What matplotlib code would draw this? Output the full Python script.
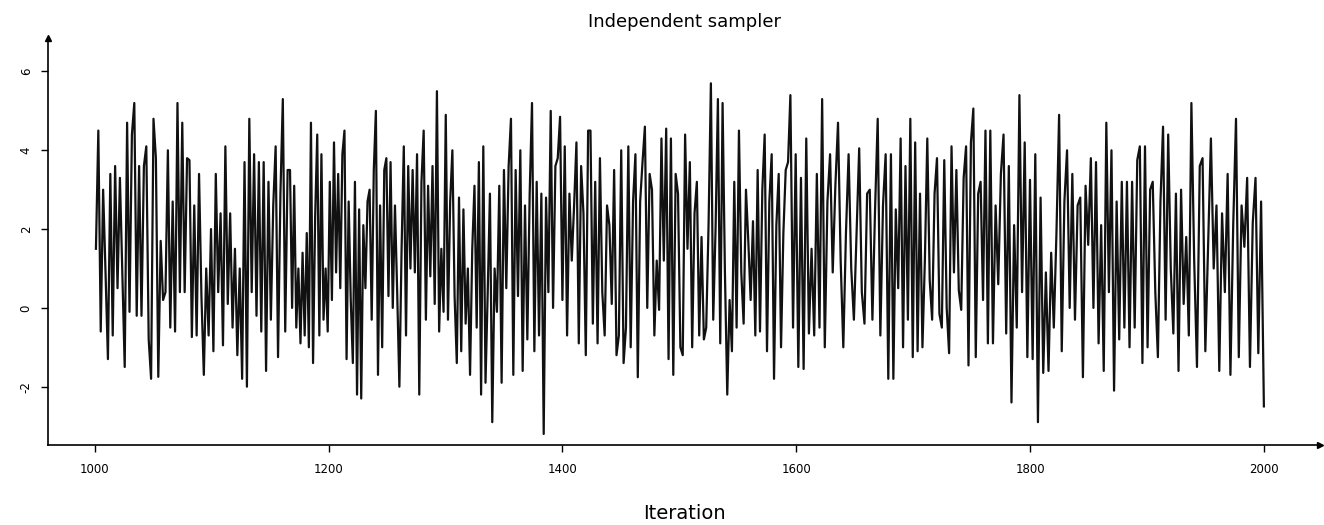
import numpy as np
import matplotlib
matplotlib.use("Agg")
import matplotlib.pyplot as plt

# Trace values, segment by segment (peaks / troughs in order)
seg_1000_1081 = [1.5, 4.5, -0.6, 3.0, 0.9, -1.3, 3.4, -0.7, 3.6, 0.5, 3.3, 0.9, -1.5, 4.7, -0.1,
                 4.4, 5.2, -0.2, 3.6, -0.2, 3.6, 4.1, -0.8, -1.8, 4.8, 3.8, -1.75, 1.7, 0.2, 0.4,
                 4.0, -0.5, 2.7, -0.6, 5.2, 0.4, 4.7, 0.4, 3.8]
seg_1081_1167 = [3.75, -0.74, 2.6, -0.7, 3.4, 0.3, -1.7, 1.0, -0.7, 2.0, -1.1, 3.4, 0.4, 2.4,
                 -0.95, 4.1, 0.1, 2.4, -0.5, 1.5, -1.2, 1.0, -1.8, 3.7, -2.0, 4.8, 0.4, 3.9,
                 -0.2, 3.7, -0.6, 3.7, -1.6, 3.2, -0.3, 2.6, 4.1, -1.25, 2.9, 5.3, -0.6, 3.5]
seg_1167_1253 = [3.5, 0.0, 3.1, -0.5, 1.0, -0.9, 1.4, -0.7, 1.9, -1.0, 4.7, -1.4, 2.3, 4.4, -0.7,
                 3.9, -0.3, 1.0, -0.6, 3.2, 0.2, 4.2, 0.9, 3.4, 0.5, 3.9, 4.5, -1.3, 2.7, 0.2,
                 -1.4, 3.2, -2.2, 2.5, -2.3, 2.1, 0.5, 2.7, 3.0, -0.3, 3.5, 5.0, -1.7, 2.6, -1.0,
                 3.5, 3.8, 0.3]
seg_1253_1338 = [3.7, -0.0, 2.6, 0.4, -2.0, 1.5, 4.1, -0.7, 3.6, 1.0, 3.5, 0.9, 3.9, -2.2, 3.2,
                 4.5, -0.3, 3.1, 0.8, 3.6, 0.1, 5.5, -0.6, 1.5, -0.1, 4.9, -0.3, 2.7, 4.0, 0.3,
                 -1.4, 2.8, -1.1, 2.5, -0.4, 1.0, -1.7, 1.5, 3.1, -0.5, 3.7, -2.2, 4.1, -1.9, 0.4]
seg_1338_1424 = [2.9, -2.9, 1.0, -0.1, 3.1, -1.9, 3.5, 0.5, 3.6, 4.8, -1.7, 3.5, 0.3, 4.0, -1.6,
                 2.6, -0.8, 2.9, 5.2, -1.1, 3.2, -0.7, 2.9, -3.2, 2.8, 0.4, 5.0, 0.0, 3.6, 3.8,
                 4.85, 0.2, 4.1, -0.7, 2.9, 1.2, 2.6, 4.2, -0.9, 3.6, 2.4, -1.2, 4.5]
seg_1424_1509 = [4.5, -0.4, 3.2, -0.9, 3.8, 0.4, -0.7, 2.6, 2.1, 0.1, 3.5, -1.2, -0.7, 4.0, -1.4,
                 -0.5, 4.1, -1.0, 2.7, 3.9, -1.76, 2.7, 3.7, 4.6, 0.0, 3.4, 3.0, -0.7, 1.2, -0.05,
                 4.3, 1.2, 4.55, -1.3, 4.3, -1.7, 3.4, 2.9, -1.0, -1.2, 4.4, 1.5]
seg_1509_1595 = [3.7, -1.0, 2.4, 3.2, -0.7, 1.8, -0.8, -0.5, 2.1, 5.7, -0.3, 2.0, 5.3, -0.9, 5.2,
                 0.9, -2.2, 0.2, -1.1, 3.2, -0.5, 4.5, 0.9, -0.4, 3.0, 1.7, 0.2, 2.2, -0.7, 3.5,
                 -0.6, 3.0, 4.4, -1.1, 2.7, 3.9, -1.8, 2.1, 3.4, -1.0, 1.9, 3.5, 3.7]
seg_1595_1681 = [5.4, -0.5, 3.9, -1.5, 3.3, -1.55, 4.3, -0.65, 1.5, -0.7, 3.4, -0.5, 5.3, -1.0,
                 2.7, 3.9, 0.9, 3.1, 4.7, 1.2, -1.0, 1.9, 3.9, 1.0, -0.3, 1.9, 4.05, 0.4, -0.4,
                 2.9, 3.0, -0.3, 2.5, 4.8, -0.7, 2.6, 3.9, -1.8]
seg_1681_1766 = [3.9, -1.8, 2.5, 0.5, 4.3, -1.0, 3.6, -0.3, 4.8, -1.25, 4.2, -1.1, 2.9, -1.0, 1.2,
                 4.3, 0.7, -0.3, 2.9, 3.8, -0.15, -0.5, 3.75, 0.0, -1.15, 4.1, 0.9, 3.5, 0.45,
                 -0.05, 3.3, 4.1, -1.46, 4.2, 5.06, -1.25, 2.9, 3.2, 0.2, 4.5, -0.9]
seg_1766_1852 = [4.5, -0.9, 2.6, 0.6, 3.4, 4.4, -0.65, 3.6, -2.4, 2.1, -0.5, 5.4, 0.4, 4.2, -1.25,
                 3.25, -1.3, 3.9, -2.9, 2.8, -1.65, 0.9, -1.6, 1.4, -0.5, 1.9, 4.9, -1.1, 2.7,
                 4.0, 0.0, 3.4, -0.3, 2.6, 2.8, -1.76, 3.1, 1.6]
seg_1852_1938 = [3.8, 0.0, 3.7, -0.9, 2.1, -1.6, 4.7, 0.4, 4.0, -2.1, 2.7, -0.8, 3.2, -0.5, 3.2,
                 -1.0, 3.2, -0.5, 3.75, 4.1, -1.4, 4.1, -1.0, 3.0, 3.2, 0.4, -1.25, 2.7, 4.6,
                 -0.3, 4.4, 1.0, -0.65, 2.9, -1.6, 3.0, 0.1, 1.8, -0.7]
seg_1938_2000 = [5.2, 1.2, -1.5, 3.6, 3.8, -1.1, 1.55, 4.3, 1.0, 2.6, -1.6, 2.4, 0.4, 3.4, -1.7,
                 2.1, 4.8, -1.25, 2.6, 1.55, 3.3, -1.5, 2.15, 3.3, -1.15, 2.7, -2.5]

segments = [seg_1000_1081, seg_1081_1167, seg_1167_1253, seg_1253_1338, seg_1338_1424,
            seg_1424_1509, seg_1509_1595, seg_1595_1681, seg_1681_1766, seg_1766_1852,
            seg_1852_1938, seg_1938_2000]
seg_bounds = [1001, 1081, 1167, 1253, 1338, 1424, 1509, 1595, 1681, 1766, 1852, 1938, 2000]

xticks = [1000, 1200, 1400, 1600, 1800, 2000]
yticks = [-2, 0, 2, 4, 6]

iters = []
vals = []
for k, seg in enumerate(segments):
    n = len(seg)
    xs = np.linspace(seg_bounds[k], seg_bounds[k + 1], n, endpoint=(k == len(segments) - 1))
    iters.extend(xs)
    vals.extend(seg)

fig = plt.figure(figsize=(13.24, 5.25), dpi=100)
ax = fig.add_axes([48 / 1324, 80 / 525, (1320 - 48) / 1324, (445 - 38) / 525])
ax.plot(iters, vals, color="#111111", lw=1.6)

ax.set_xlim(960, 2048)
ax.set_ylim(-3.48, 6.85)
ax.spines["top"].set_visible(False)
ax.spines["right"].set_visible(False)
ax.spines["left"].set_linewidth(1.2)
ax.spines["bottom"].set_linewidth(1.2)
ax.plot(1, 0, ">k", transform=ax.transAxes, clip_on=False, markersize=5)
ax.plot(0, 1, "^k", transform=ax.transAxes, clip_on=False, markersize=5)

ax.set_xticks(xticks)
ax.set_xticklabels([str(t) for t in xticks], fontsize=8.5)
ax.set_yticks(yticks)
ax.set_yticklabels([str(t) for t in yticks], fontsize=8.5, rotation=90, va="center")
ax.tick_params(direction="out", length=5, width=1)
ax.tick_params(axis="x", pad=8)
ax.tick_params(axis="y", pad=6)

ax.set_title("Independent sampler", fontsize=13, pad=8)
ax.set_xlabel("Iteration", fontsize=14, labelpad=20)

fig.savefig("out.png", dpi=100)
